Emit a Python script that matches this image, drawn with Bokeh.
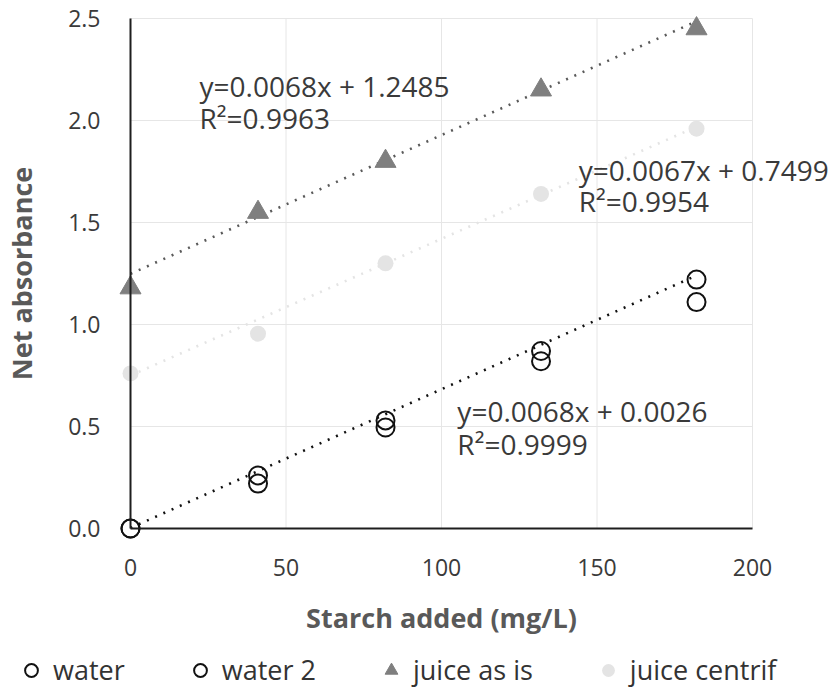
from bokeh.plotting import figure
from bokeh.models import Range1d, FixedTicker, Label, Legend, LegendItem, NumeralTickFormatter
from bokeh.embed import file_html
from bokeh.resources import INLINE

# ---------------- data ----------------
starch = [0, 41, 82, 132, 182]                       # Starch added (mg/L)
water = [0.0, 0.26, 0.53, 0.87, 1.22]
water2 = [0.0, 0.22, 0.495, 0.82, 1.11]
juice_as_is = [1.18, 1.55, 1.80, 2.15, 2.45]
juice_centrif = [0.76, 0.955, 1.30, 1.64, 1.96]

series_names = ["water", "water 2", "juice as is", "juice centrif"]

# trendlines: water, juice as is, juice centrif
fit_names = ["water", "juice as is", "juice centrif"]
fit_slopes = [0.0068, 0.0068, 0.0067]
fit_intercepts = [0.0026, 1.2485, 0.7499]
fit_r2 = [0.9999, 0.9963, 0.9954]

x_ticks = [0, 50, 100, 150, 200]
y_ticks = [0.0, 0.5, 1.0, 1.5, 2.0, 2.5]

# ---------------- layout ----------------
W, H = 831, 688
PX_X = 3.11      # px per mg/L
PX_Y = 204.0     # px per absorbance unit
x0_px, y0_px = 130, 528   # canvas position of the origin
x_start = -x0_px / PX_X
x_end = x_start + W / PX_X
y_start = -(H - y0_px) / PX_Y
y_end = y_start + H / PX_Y

FONT = "Open Sans"

p = figure(width=W, height=H, x_range=Range1d(x_start, x_end), y_range=Range1d(y_start, y_end),
           output_backend="svg", toolbar_location=None,
           min_border_left=0, min_border_right=0, min_border_top=0, min_border_bottom=0)
p.outline_line_color = None
p.background_fill_color = "white"
p.xgrid.visible = False
p.ygrid.visible = False

# light grid limited to the tick range
grid_c = "#e6e6e6"
p.segment(x0=x_ticks, y0=[y_ticks[0]] * len(x_ticks), x1=x_ticks, y1=[y_ticks[-1]] * len(x_ticks),
          line_color=grid_c, line_width=1)
p.segment(x0=[x_ticks[0]] * len(y_ticks), y0=y_ticks, x1=[x_ticks[-1]] * len(y_ticks), y1=y_ticks,
          line_color=grid_c, line_width=1)

# axes crossing at the origin
xa, ya = p.xaxis[0], p.yaxis[0]
for ax in (xa, ya):
    ax.fixed_location = 0
    ax.axis_line_color = "#1e1e1e"
    ax.axis_line_width = 2
    ax.major_tick_line_color = None
    ax.minor_tick_line_color = None
    ax.major_tick_out = 0
    ax.major_tick_in = 0
    ax.major_label_text_font = FONT
    ax.major_label_text_font_size = "23px"
    ax.major_label_text_color = "#3a3a3a"
    ax.axis_label_text_font = FONT
    ax.axis_label_text_font_style = "bold"
    ax.axis_label_text_font_size = "27px"
    ax.axis_label_text_color = "#595959"
xa.bounds = (x_ticks[0], x_ticks[-1])
ya.bounds = (y_ticks[0], y_ticks[-1])
xa.ticker = FixedTicker(ticks=x_ticks)
ya.ticker = FixedTicker(ticks=y_ticks)
ya.formatter = NumeralTickFormatter(format="0.0")
xa.major_label_standoff = 30
ya.major_label_standoff = 30
xa.axis_label = "Starch added (mg/L)"
ya.axis_label = "Net absorbance"
xa.axis_label_standoff = 20
ya.axis_label_standoff = 25

# trendlines (dotted)
fit_colors = ["#111111", "#5a5a5a", "#e4e4e4"]
for m, b, c in zip(fit_slopes, fit_intercepts, fit_colors):
    xs = [starch[0], starch[-1]]
    ys = [m * v + b for v in xs]
    p.line(xs, ys, line_color=c, line_width=2.6, line_dash="2 7")

# markers
r_c = p.scatter(starch, juice_centrif, marker="circle", size=16,
                fill_color="#e4e4e4", line_color=None)
r_j = p.scatter(starch, juice_as_is, marker="triangle", size=21,
                fill_color="#7f7f7f", line_color="#7f7f7f", line_width=1)
r_w2 = p.scatter(starch, water2, marker="circle", size=18,
                 fill_color=None, line_color="#111111", line_width=2)
r_w = p.scatter(starch, water, marker="circle", size=18,
                fill_color=None, line_color="#111111", line_width=2)

# equation labels (data positions of each label's left/middle)
eq_x = [105.1, 22.2, 144.1]
eq_y1 = [0.574, 2.167, 1.755]
eq_y2 = [0.412, 2.010, 1.603]
for i in range(3):
    t1 = f"y=0.{str(fit_slopes[i]).split('.')[1]}x + {fit_intercepts[i]:.4f}"
    t2 = f"R\u00b2={fit_r2[i]:.4f}"
    for t, yy in ((t1, eq_y1[i]), (t2, eq_y2[i])):
        p.add_layout(Label(x=eq_x[i], y=yy, text=t, text_font=FONT, text_font_size="28px",
                           text_color="#3a3a3a", text_baseline="middle", text_align="left"))

legend = Legend(items=[LegendItem(label=series_names[0], renderers=[r_w]),
                       LegendItem(label=series_names[1], renderers=[r_w2]),
                       LegendItem(label=series_names[2], renderers=[r_j]),
                       LegendItem(label=series_names[3], renderers=[r_c])],
                orientation="horizontal", location=(15, 0))
legend.border_line_color = None
legend.background_fill_alpha = 0
legend.padding = 0
legend.margin = 0
legend.spacing = 59
legend.label_standoff = 6
legend.glyph_width = 32
legend.glyph_height = 32
legend.label_text_font = FONT
legend.label_text_font_size = "27px"
legend.label_text_color = "#333333"
p.add_layout(legend, "center")

open("out.html", "w").write(file_html(p, INLINE))
